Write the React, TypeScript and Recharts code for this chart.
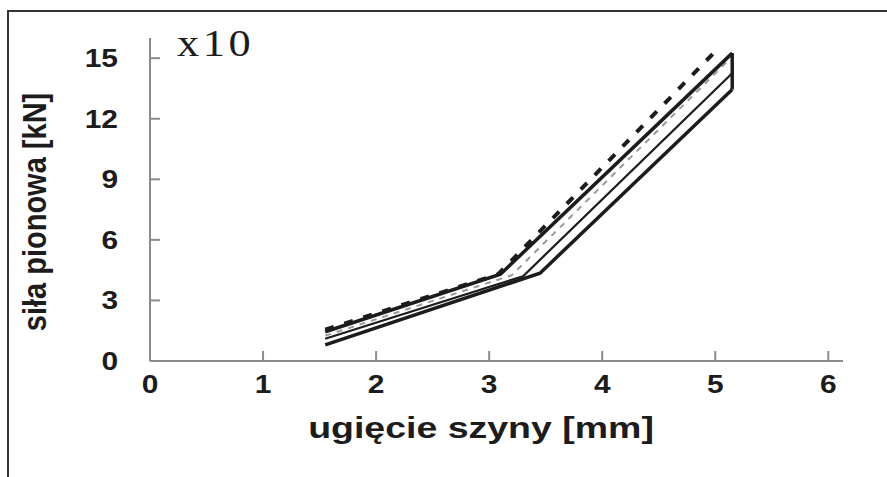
import { LineChart, Line, XAxis, YAxis, Label } from 'recharts';

// ugięcie szyny [mm] vs siła pionowa [kN] (x10)
const xTicks = [0, 1, 2, 3, 4, 5, 6];
const yTicks = [0, 3, 6, 9, 12, 15];

const upperX = [1.55, 3.1, 5.15];
const upperY = [1.45, 4.3, 15.25];

const dashedX = [1.55, 3.08, 5.02];
const dashedY = [1.55, 4.3, 15.45];

const grayX = [1.55, 3.2, 5.1];
const grayY = [1.25, 4.25, 14.8];

const middleX = [1.55, 3.3, 5.15];
const middleY = [1.1, 4.2, 14.25];

const lowerX = [1.55, 3.45, 5.15];
const lowerY = [0.8, 4.35, 13.45];

const closeX = [5.15, 5.15];
const closeY = [13.45, 15.25];

const toPoints = (xs: number[], ys: number[]) => xs.map((x, i) => ({ x, y: ys[i] }));

const AXIS = '#8c8c8c';
const INK = '#1c1c1c';
const SANS = '"Liberation Sans", Arial, sans-serif';

const XTick = (props: any) => {
  const { x, y, payload } = props;
  return (
    <g>
      <line x1={x} x2={x} y1={y} y2={y - 10} stroke={AXIS} strokeWidth={2} />
      <text
        transform={`translate(${x},${y + 32}) scale(1.15,1)`}
        textAnchor="middle"
        fontFamily={SANS}
        fontWeight="bold"
        fontSize={26}
        fill={INK}
      >
        {payload.value}
      </text>
    </g>
  );
};

const YTick = (props: any) => {
  const { x, y, payload } = props;
  return (
    <g>
      <line x1={x} x2={x + 10} y1={y} y2={y} stroke={AXIS} strokeWidth={2} />
      <text
        transform={`translate(${x - 32},${y + 9}) scale(1.15,1)`}
        textAnchor="end"
        fontFamily={SANS}
        fontWeight="bold"
        fontSize={26}
        fill={INK}
      >
        {payload.value}
      </text>
    </g>
  );
};

export default function App() {
  return (
    <div style={{ position: 'absolute', left: 0, top: 0, width: 887, height: 477, background: '#fff' }}>
      <div
        style={{
          position: 'absolute',
          left: 7,
          top: 10,
          right: 0,
          bottom: 0,
          borderTop: '2px solid #333',
          borderLeft: '2px solid #333',
        }}
      />
      <LineChart
        width={887}
        height={477}
        margin={{ top: 38, right: 44, left: 90, bottom: 86 }}
        style={{ position: 'absolute', left: 0, top: 0 }}
      >
        <XAxis
          type="number"
          dataKey="x"
          domain={[0, 6.13]}
          ticks={xTicks}
          allowDataOverflow
          height={30}
          stroke={AXIS}
          strokeWidth={2}
          tickLine={false}
          tickSize={0}
          tickMargin={0}
          tick={XTick}
          label={{
            content: () => (
              <text
                transform="translate(481,438) scale(1.25,1)"
                textAnchor="middle"
                fontFamily={SANS}
                fontWeight="bold"
                fontSize={30}
                fill={INK}
              >
                ugięcie szyny [mm]
              </text>
            ),
          }}
        />
        <YAxis
          type="number"
          dataKey="y"
          domain={[0, 16]}
          ticks={yTicks}
          allowDataOverflow
          width={60}
          stroke={AXIS}
          strokeWidth={2}
          tickLine={false}
          tickSize={0}
          tickMargin={0}
          tick={YTick}
          label={{
            content: () => (
              <text
                transform="translate(46,212) scale(1.15,1) rotate(-90)"
                textAnchor="middle"
                fontFamily={SANS}
                fontWeight="bold"
                fontSize={29}
                fill={INK}
              >
                siła pionowa [kN]
              </text>
            ),
          }}
        >
          <Label
            content={() => (
              <text
                transform="translate(177,56) scale(1.2,1)"
                fontFamily='"Liberation Serif", "DejaVu Serif", serif'
                fontSize={37}
                letterSpacing={3}
                fill={INK}
              >
                x10
              </text>
            )}
          />
        </YAxis>
        <Line data={toPoints(grayX, grayY)} dataKey="y" stroke="#9a9a9a" strokeWidth={2} strokeDasharray="6 6" dot={false} isAnimationActive={false} />
        <Line data={toPoints(middleX, middleY)} dataKey="y" stroke={INK} strokeWidth={2.2} dot={false} isAnimationActive={false} />
        <Line data={toPoints(upperX, upperY)} dataKey="y" stroke={INK} strokeWidth={3.5} dot={false} isAnimationActive={false} />
        <Line data={toPoints(lowerX, lowerY)} dataKey="y" stroke={INK} strokeWidth={3.5} dot={false} isAnimationActive={false} />
        <Line data={toPoints(closeX, closeY)} dataKey="y" stroke={INK} strokeWidth={3.5} dot={false} isAnimationActive={false} />
        <Line data={toPoints(dashedX, dashedY)} dataKey="y" stroke={INK} strokeWidth={4} strokeDasharray="9 11" dot={false} isAnimationActive={false} />
      </LineChart>
    </div>
  );
}
